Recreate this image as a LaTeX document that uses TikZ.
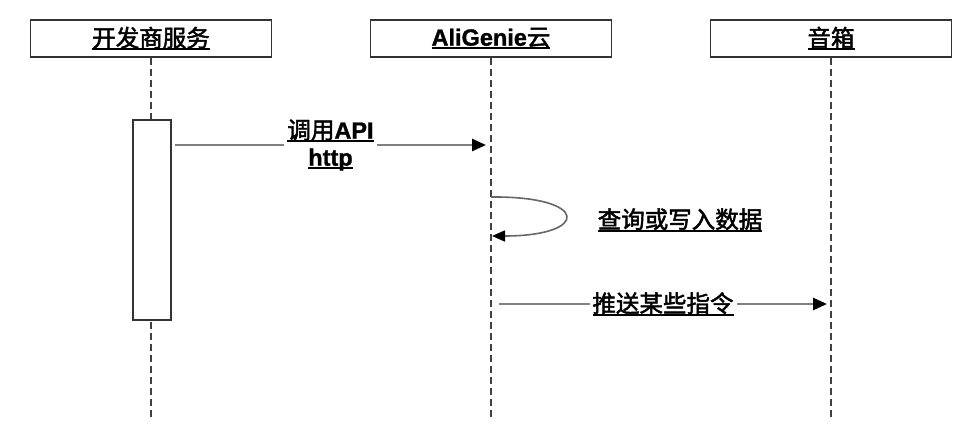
\documentclass[tikz,border=0pt]{standalone}
\usepackage{fontspec}
\setmainfont{Liberation Sans Bold}[FakeBold=1.2]
\newfontfamily\cjk[FakeBold=2]{Noto Sans CJK SC}
\usetikzlibrary{arrows.meta}
\newcommand\ulbox[1]{\setbox0\hbox{#1}\rlap{\rule[-3.5pt]{\wd0}{1.8pt}}\box0}
\tikzset{
  actor/.style={draw=black!80,line width=1.5pt,fill=white,minimum width=241pt,minimum height=37pt,inner sep=0pt,font=\fontsize{23.5}{27}\selectfont},
  life/.style={draw=black!75,line width=1.3pt,dash pattern=on 7pt off 4pt},
  msg/.style={draw=black!50,line width=2.6pt,-{Triangle[color=black,length=14pt,width=12pt]}},
  selfmsg/.style={draw=black!60,line width=1.6pt,-{Triangle[color=black,length=13pt,width=11pt]}},
  lbl/.style={fill=white,inner sep=3pt,align=center,font=\fontsize{23.5}{27}\selectfont}
}
\begin{document}
\begin{tikzpicture}[x=1pt,y=-1pt]
\useasboundingbox (0,0) rectangle (980,444);
\foreach \n/\x/\t in {dev/151/{\cjk 开发商服务},cloud/491/{AliGenie\cjk 云},box/831/{\cjk 音箱}}{
  \node[actor] (\n) at (\x,38.5) {\ulbox{\t}};
  \draw[life] (\n.south) -- (\n.south |- 0,418);
}
\node[draw=black!80,line width=1.5pt,fill=white,minimum width=38pt,minimum height=200pt,inner sep=0pt] (act) at (152,220) {};
\coordinate (a1) at (175,145);
\coordinate (b1) at (486,145);
\draw[msg] (a1) -- node[lbl]{\ulbox{{\cjk 调用}API}\\\ulbox{http}} (b1);
\coordinate (s1) at (491,197);
\coordinate (s2) at (492,236);
\draw[selfmsg] (s1) .. controls (590,196) and (590,236) .. (s2);
\node[lbl,fill=none] (q) at (680,220) {\ulbox{\cjk 查询或写入数据}};
\coordinate (a3) at (499,304);
\coordinate (b3) at (827,304);
\draw[msg] (a3) -- node[lbl]{\ulbox{\cjk 推送某些指令}} (b3);
\end{tikzpicture}
\end{document}
